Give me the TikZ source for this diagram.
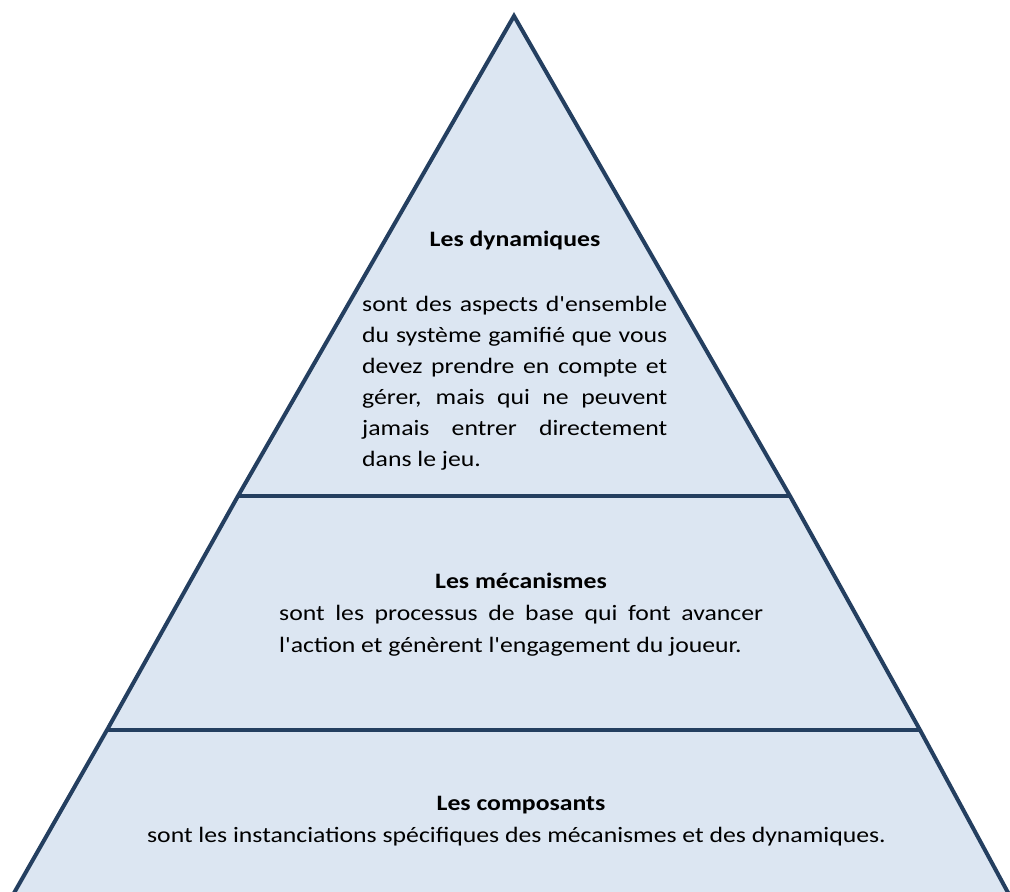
\documentclass[tikz,border=0pt]{standalone}
\usepackage{fontspec}
\newfontfamily\calfont{Carlito}[FakeStretch=1.17]
\definecolor{pfill}{HTML}{DCE6F2}
\definecolor{pline}{HTML}{243F60}
\begin{document}
\begin{tikzpicture}[x=1pt,y=-1pt,
  txt/.style={inner sep=0pt, font=\calfont\fontsize{22}{31}\selectfont, text=black},
  ttl/.style={inner sep=0pt, font=\calfont\bfseries\fontsize{22}{31}\selectfont, text=black},
  edge/.style={draw=pline, line width=4pt, line join=miter}]
\useasboundingbox (0,0) rectangle (1010,892);
\begin{scope}
\clip (0,0) rectangle (1010,892);
\coordinate (apex) at (514,16);
\coordinate (l1) at (238,496);
\coordinate (r1) at (790,496);
\coordinate (l2) at (107,730);
\coordinate (r2) at (920,730);
\coordinate (l3) at (10,900);
\coordinate (r3) at (1012,900);
\fill[pfill] (apex) -- (l1) -- (l2) -- (l3) -- (r3) -- (r2) -- (r1) -- cycle;
\draw[edge] (l3) -- (l2) -- (l1) -- (apex) -- (r1) -- (r2) -- (r3);
\draw[edge] (l1) -- (r1);
\draw[edge] (l2) -- (r2);
\end{scope}
% top level
\node[ttl, anchor=base] (t1) at (515,246) {Les dynamiques};
\node[txt, anchor=base west] (d1) at (362,311) {\makebox[305pt][s]{sont des aspects d'ensemble}};
\node[txt, anchor=base west] (d2) at (362,342) {\makebox[305pt][s]{du système gamifié que vous}};
\node[txt, anchor=base west] (d3) at (362,373) {\makebox[305pt][s]{devez prendre en compte et}};
\node[txt, anchor=base west] (d4) at (362,404) {\makebox[305pt][s]{gérer, mais qui ne peuvent}};
\node[txt, anchor=base west] (d5) at (362,435) {\makebox[305pt][s]{jamais entrer directement}};
\node[txt, anchor=base west] (d6) at (362,466) {dans le jeu.};
% middle level
\node[ttl, anchor=base] (t2) at (521,588) {Les mécanismes};
\node[txt, anchor=base west] (m1) at (279,620) {\makebox[484pt][s]{sont les processus de base qui font avancer}};
\node[txt, anchor=base west] (m2) at (279,652) {l'action et génèrent l'engagement du joueur.};
% bottom level
\node[ttl, anchor=base] (t3) at (521,810) {Les composants};
\node[txt, anchor=base] (c1) at (516.5,842) {sont les instanciations spécifiques des mécanismes et des dynamiques.};
\end{tikzpicture}
\end{document}
